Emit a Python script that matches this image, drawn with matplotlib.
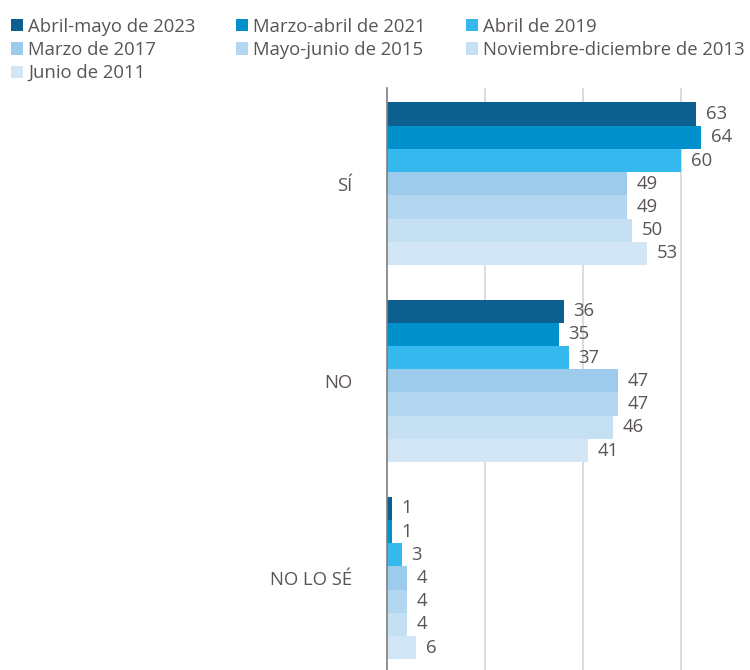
import matplotlib
matplotlib.use('Agg')
import matplotlib.pyplot as plt
import numpy as np

plt.rcParams['font.family'] = ['Open Sans', 'DejaVu Sans']

# categories and survey waves
categories = ['SÍ', 'NO', 'NO LO SÉ']
series = ['Abril-mayo de 2023', 'Marzo-abril de 2021', 'Abril de 2019',
          'Marzo de 2017', 'Mayo-junio de 2015', 'Noviembre-diciembre de 2013',
          'Junio de 2011']
colors = ['#0d5f8f', '#0090cc', '#35b8ee', '#9ccbeb', '#b3d7f0', '#c6e0f3', '#d2e6f6']

# values per wave: SÍ, NO, NO LO SÉ
v2023 = [63, 36, 1]
v2021 = [64, 35, 1]
v2019 = [60, 37, 3]
v2017 = [49, 47, 4]
v2015 = [49, 47, 4]
v2013 = [50, 46, 4]
v2011 = [53, 41, 6]
values = [v2023, v2021, v2019, v2017, v2015, v2013, v2011]

text_col = '#5a5456'

fig = plt.figure(figsize=(7.5, 6.7), dpi=100)
ax = fig.add_axes([0.516, 0.0, 0.484, 0.869])

n = len(series)
h = 0.1178
y = np.arange(len(categories))
bars = []
for i, (name, vals, c) in enumerate(zip(series, values, colors)):
    pos = y - h * (n - 1) / 2 + i * h
    b = ax.barh(pos, vals, height=h, color=c, label=name, zorder=3)
    bars.append(b)
    for p, v in zip(pos, vals):
        ax.annotate(str(v), (v, p), xytext=(7, 0), textcoords='offset points',
                    va='center', ha='left', fontsize=13.3, color=text_col)

ax.set_xlim(0, 74)
ax.set_ylim(2.467, -0.487)
ax.set_yticks(y)
ax.set_yticklabels(categories, fontsize=13.3, color=text_col)
ax.tick_params(axis='y', length=0, pad=25)
ax.set_xticks([20, 40, 60])
ax.tick_params(axis='x', length=0, labelbottom=False)
ax.grid(axis='x', color='#d9d9d9', linewidth=1.3, zorder=0)
for s in ['top', 'right', 'bottom']:
    ax.spines[s].set_visible(False)
ax.spines['left'].set_color('#7f7f7f')
ax.spines['left'].set_linewidth(1.2)
ax.spines['left'].set_zorder(4)

# legend filled row by row
order = [0, 3, 6, 1, 4, 2, 5]
leg = fig.legend([bars[k] for k in order], [series[k] for k in order],
                 ncol=3, loc='upper left', bbox_to_anchor=(0.0, 0.99),
                 frameon=False, fontsize=13.3, handlelength=0.64, handleheight=0.64,
                 handletextpad=0.28, columnspacing=2.2, labelspacing=0.28,
                 borderaxespad=0.2)
for t in leg.get_texts():
    t.set_color(text_col)

fig.savefig('out.png', dpi=100)
